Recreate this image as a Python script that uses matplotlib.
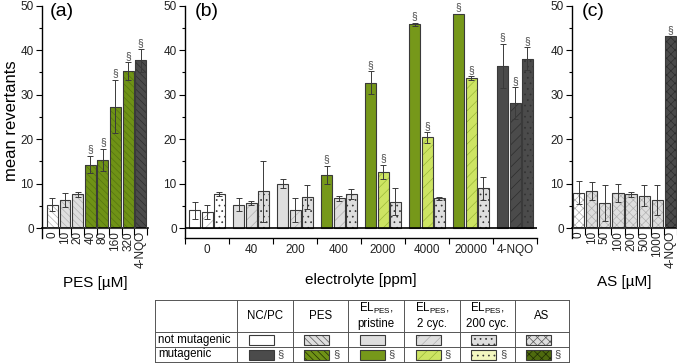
#!/usr/bin/env python3
"""Ames test: mean revertants for PES, electrolyte and AS."""

import matplotlib.pyplot as plt
from matplotlib.patches import Rectangle
from matplotlib.ticker import FixedLocator, MultipleLocator
import numpy as np

plt.rcParams['font.family'] = ['Liberation Sans', 'DejaVu Sans']
plt.rcParams['mathtext.default'] = 'regular'
plt.rcParams['hatch.linewidth'] = 0.5

# ---- data ----
pes_conc = ["0", "10", "20", "40", "80", "160", "320", "4-NQO"]
pes_mean = [5.3, 6.3, 7.6, 14.3, 15.3, 27.3, 35.3, 37.7]
pes_err = [1.5, 1.5, 0.6, 2.0, 2.5, 6.0, 2.0, 2.5]
pes_sig = [False, False, False, True, True, True, True, True]

el_groups = ["0", "40", "200", "400", "2000", "4000", "20000", "4-NQO"]
el_pristine = [4.0, 5.3, 10.0, 12.0, 32.7, 45.8, 48.2, 36.4]
el_pristine_err = [2.0, 1.5, 1.0, 2.0, 2.6, 0.4, 0.0, 5.0]
el_pristine_sig = [False, False, False, True, True, True, True, True]
el_2cyc = [3.7, 5.7, 4.0, 6.7, 12.6, 20.4, 33.7, 28.1]
el_2cyc_err = [1.6, 0.5, 2.7, 0.5, 1.6, 1.2, 0.4, 3.6]
el_2cyc_sig = [False, False, False, False, True, True, True, True]
el_200cyc = [7.7, 8.3, 7.0, 7.7, 6.0, 6.7, 9.0, 38.1]
el_200cyc_err = [0.5, 6.9, 2.7, 1.2, 3.0, 0.4, 2.6, 2.6]
el_200cyc_sig = [False, False, False, False, False, False, False, True]

as_conc = ["0", "10", "50", "100", "200", "500", "1000", "4-NQO"]
as_mean = [8.0, 8.3, 5.7, 8.0, 7.6, 7.3, 6.3, 43.1]
as_err = [2.6, 2.0, 4.0, 2.0, 0.6, 2.4, 3.3, 0.0]
as_sig = [False, False, False, False, False, False, False, True]

legend_cols = ["NC/PC", "PES", "pristine", "2 cyc.", "200 cyc.", "AS"]
legend_series = ["nc", "pes", "pristine", "cyc2", "cyc200", "as"]

# ---- styles ----
W, H = 677, 364
EDGE = '#3a3a3a'
FACE_NC = 'white'
FACE_PC = '#4b4b4b'
FACE_NO = '#dedede'
MUT = {'nc': FACE_PC, 'pes': '#6f9216', 'pristine': '#76981a',
       'cyc2': '#cde463', 'cyc200': '#f3f7bf', 'as': '#4e6a0e'}
HATCH = {'nc': None, 'pes': '\\\\\\\\\\', 'pristine': None,
         'cyc2': '///', 'cyc200': '...', 'as': 'xxxx'}


def style(series, kind, legend=False):
    """kind: 'nc', 'pc', 'no', 'mut' -> (face, hatch, hatch colour)"""
    hatch = HATCH[series]
    if kind == 'nc':
        face = FACE_NC
    elif kind == 'pc':
        face = FACE_PC
    elif kind == 'mut':
        face = MUT[series]
    else:
        face = FACE_NO
    if series == 'cyc200':
        hc = '#333333'
    elif face == FACE_PC:
        hc = '#2e2e2e'
    elif kind == 'mut' and series == 'cyc2':
        hc = '#9ab838'
    elif kind == 'mut':
        hc = '#1e2a04' if legend else '#55750f'
    else:
        hc = '#555555' if legend and series in ('pes', 'as') else '#b0b0b0'
    return face, hatch, hc


def kinds(sig):
    out = []
    for i, s in enumerate(sig):
        if i == 0:
            out.append('nc')
        elif i == len(sig) - 1:
            out.append('pc')
        else:
            out.append('mut' if s else 'no')
    return out


def draw_bars(ax, x, h, err, sig, series, width):
    for xi, hi, ki in zip(x, h, kinds(sig)):
        face, hatch, hc = style(series, ki)
        ax.bar(xi, hi, width, color=face, edgecolor=hc, hatch=hatch,
               linewidth=0, zorder=2)
        ax.bar(xi, hi, width, fill=False, edgecolor=EDGE, linewidth=0.8, zorder=3)
    ax.errorbar(x, h, yerr=err, fmt='none', ecolor='#3a3a3a', elinewidth=0.7,
                capsize=2, capthick=0.7, zorder=4)
    for xi, hi, ei, si in zip(x, h, err, sig):
        if si:
            ax.annotate('§', xy=(xi, hi + ei), xytext=(0, 1), textcoords='offset points',
                        ha='center', va='bottom', fontsize=7.5, color='#444444')


def px_axes(fig, left, top, right, bottom):
    return fig.add_axes([left / W, 1 - bottom / H, (right - left) / W, (bottom - top) / H])


def setup_y(ax):
    ax.set_ylim(-2.2, 50)
    ax.yaxis.set_major_locator(MultipleLocator(10))
    ax.yaxis.set_minor_locator(MultipleLocator(5))
    ax.tick_params(axis='y', which='major', length=4, width=0.8, labelsize=8.5,
                   labelcolor='#222222', pad=2)
    ax.tick_params(axis='y', which='minor', length=2, width=0.8)
    for s in ('top', 'right'):
        ax.spines[s].set_visible(False)
    ax.spines['left'].set_linewidth(1.0)


fig = plt.figure(figsize=(W / 100, H / 100), dpi=100)

# ---- (a) PES ----
ax_a = px_axes(fig, 42, 5.7, 148, 238)
setup_y(ax_a)
xa = np.arange(len(pes_conc))
draw_bars(ax_a, xa, pes_mean, pes_err, pes_sig, 'pes', 0.86)
ax_a.set_xlim(-0.83, 7.58)
ax_a.spines['bottom'].set_position(('data', 0))
ax_a.spines['bottom'].set_linewidth(1.2)
ax_a.set_xticks(xa)
ax_a.set_xticklabels(pes_conc, rotation=90, fontsize=8.5, color='#222222')
ax_a.xaxis.set_minor_locator(FixedLocator(np.arange(0.5, 8, 1)))
ax_a.tick_params(axis='x', which='major', length=0, pad=2)
ax_a.tick_params(axis='x', which='minor', length=5, width=0.8)
ax_a.text(0.07, 0.975, "(a)", transform=ax_a.transAxes, fontsize=14,
          va='center', ha='left')

# ---- (b) electrolyte ----
ax_b = px_axes(fig, 185, 5.7, 537, 238)
setup_y(ax_b)
xb = np.arange(len(el_groups))
off = 0.284
draw_bars(ax_b, xb - off, el_pristine, el_pristine_err, el_pristine_sig, 'pristine', 0.25)
draw_bars(ax_b, xb, el_2cyc, el_2cyc_err, el_2cyc_sig, 'cyc2', 0.25)
draw_bars(ax_b, xb + off, el_200cyc, el_200cyc_err, el_200cyc_sig, 'cyc200', 0.25)
ax_b.set_xlim(-0.5, 7.5)
ax_b.axhline(0, color='black', lw=1.2, zorder=5)
ax_b.spines['bottom'].set_linewidth(1.0)
ax_b.set_xticks(xb)
ax_b.set_xticklabels(el_groups, fontsize=8.5, color='#222222')
ax_b.xaxis.set_minor_locator(FixedLocator(np.arange(-0.5, 8, 1)))
ax_b.tick_params(axis='x', which='major', length=0, pad=4)
ax_b.tick_params(axis='x', which='minor', length=4, width=0.8)
ax_b.text(0.028, 0.975, "(b)", transform=ax_b.transAxes, fontsize=14,
          va='center', ha='left')

# ---- (c) AS ----
ax_c = px_axes(fig, 572, 5.7, 677, 238)
setup_y(ax_c)
xc = np.arange(len(as_conc))
draw_bars(ax_c, xc, as_mean, as_err, as_sig, 'as', 0.86)
ax_c.set_xlim(-0.5, 7.5)
ax_c.spines['bottom'].set_position(('data', 0))
ax_c.spines['bottom'].set_linewidth(1.2)
ax_c.set_xticks(xc)
ax_c.set_xticklabels(as_conc, rotation=90, fontsize=8.5, color='#222222')
ax_c.xaxis.set_minor_locator(FixedLocator(np.arange(0.5, 8, 1)))
ax_c.tick_params(axis='x', which='major', length=0, pad=2)
ax_c.tick_params(axis='x', which='minor', length=5, width=0.8)
ax_c.text(0.09, 0.975, "(c)", transform=ax_c.transAxes, fontsize=14,
          va='center', ha='left')

# ---- axis labels ----
fig.text(12 / W, 1 - 121 / H, "mean revertants", rotation=90, fontsize=12,
         ha='center', va='center')
fig.text(95 / W, 1 - 283 / H, "PES [µM]", fontsize=11, ha='center', va='center')
fig.text(361 / W, 1 - 280 / H, "electrolyte [ppm]", fontsize=11, ha='center', va='center')
fig.text(624 / W, 1 - 282 / H, "AS [µM]", fontsize=11, ha='center', va='center')

# ---- legend table ----
lax = fig.add_axes([0, 0, 1, 1])
lax.set_xlim(0, W)
lax.set_ylim(H, 0)
lax.axis('off')
col_x = [155, 237, 293, 348, 404, 460, 515, 569]
row_y = [300, 332, 347, 362]
for x in col_x:
    lax.plot([x, x], [row_y[0], row_y[-1]], color='#555555', lw=0.7)
for y in row_y:
    lax.plot([col_x[0], col_x[-1]], [y, y], color='#555555', lw=0.7)

lax.text(158, (row_y[1] + row_y[2]) / 2, "not mutagenic", fontsize=8.3, va='center')
lax.text(158, (row_y[2] + row_y[3]) / 2, "mutagenic", fontsize=8.3, va='center')

for j, (name, series) in enumerate(zip(legend_cols, legend_series)):
    cx = (col_x[j + 1] + col_x[j + 2]) / 2
    hy = (row_y[0] + row_y[1]) / 2
    if name in ("pristine", "2 cyc.", "200 cyc."):
        lax.text(cx, hy - 8, r"EL$_{PES}$,", fontsize=8.3, ha='center', va='center')
        lax.text(cx, hy + 8, name, fontsize=8.3, ha='center', va='center')
    else:
        lax.text(cx, hy, name, fontsize=8.3, ha='center', va='center')
    for r, kind in enumerate(['no', 'mut']):
        k = kind
        if series == 'nc':
            k = 'nc' if kind == 'no' else 'pc'
        face, hatch, hc = style(series, k, legend=True)
        y0 = row_y[r + 1] + 2.5
        hgt = row_y[r + 2] - row_y[r + 1] - 5
        sx = cx - 4 - 12.5
        lax.add_patch(Rectangle((sx, y0), 25, hgt, facecolor=face, edgecolor=hc,
                                hatch=hatch, linewidth=0))
        lax.add_patch(Rectangle((sx, y0), 25, hgt, fill=False, edgecolor=EDGE,
                                linewidth=0.8))
        if kind == 'mut':
            lax.text(sx + 29, (row_y[r + 1] + row_y[r + 2]) / 2, '§', fontsize=8,
                     va='center', ha='left', color='#444444')

fig.savefig("out.png", dpi=100)
